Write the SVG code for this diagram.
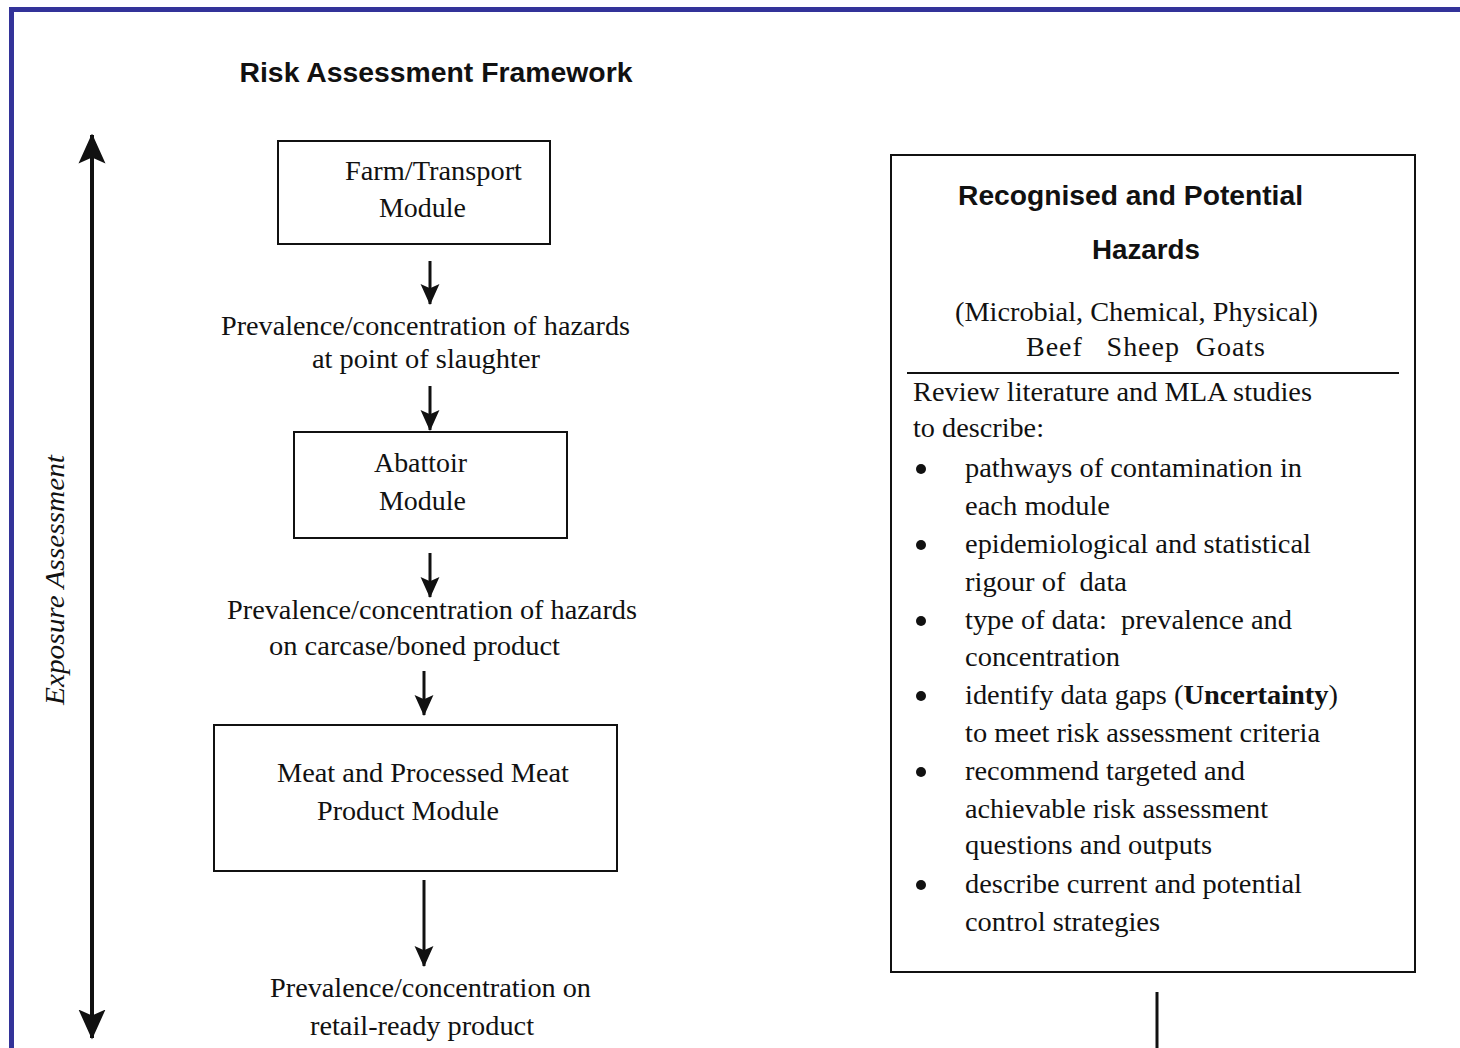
<svg xmlns="http://www.w3.org/2000/svg" width="1460" height="1048" viewBox="0 0 1460 1048">
  <style>
    .frame { fill: none; stroke: #333399; stroke-width: 5; }
    .box { fill: #ffffff; stroke: #111111; stroke-width: 2; }
    .serif { font-family: "Liberation Serif", "Times New Roman", serif; font-size: 28px; fill: #111111; }
    .sans-b { font-family: "Liberation Sans", Arial, sans-serif; font-weight: bold; fill: #111111; }
    .mid { text-anchor: middle; }
    .flow { stroke: #111111; stroke-width: 3; fill: none; }
    .axis { stroke: #111111; stroke-width: 4; fill: none; }
    .rule { stroke: #111111; stroke-width: 2; }
  </style>
  <defs>
    <marker id="head" viewBox="0 0 10 10" refX="9.5" refY="5" markerWidth="7" markerHeight="7" orient="auto" markerUnits="strokeWidth">
      <path d="M0,0.5 L10,5 L0,9.5 L2,5 z" fill="#111111"/>
    </marker>
    <marker id="headS" viewBox="0 0 10 10" refX="9.5" refY="5" markerWidth="7.5" markerHeight="7.5" orient="auto-start-reverse" markerUnits="strokeWidth">
      <path d="M0,0.5 L10,5 L0,9.5 L2,5 z" fill="#111111"/>
    </marker>
  </defs>

  <rect width="1460" height="1048" fill="#ffffff"/>
  <!-- page frame -->
  <path class="frame" d="M11.5,1048 V9.5 H1460"/>

  <text class="sans-b" x="436" y="82" font-size="27" text-anchor="middle" textLength="393" lengthAdjust="spacingAndGlyphs">Risk Assessment Framework</text>

  <!-- exposure axis -->
  <g id="exposure-axis">
    <line class="axis" x1="92" y1="1038" x2="92" y2="135" marker-end="url(#headS)" marker-start="url(#headS)"/>
    <text class="serif mid" font-style="italic" font-size="29" transform="translate(64,580) rotate(-90)" textLength="250" lengthAdjust="spacingAndGlyphs">Exposure Assessment</text>
  </g>

  <g id="farm-module">
    <rect class="box" x="278" y="141" width="272" height="103"/>
    <text class="serif mid" x="433.5" y="180" textLength="177" lengthAdjust="spacingAndGlyphs">Farm/Transport</text>
    <text class="serif mid" x="422.5" y="217" textLength="87" lengthAdjust="spacingAndGlyphs">Module</text>
  </g>

  <g id="slaughter-output">
    <text class="serif mid" x="425.5" y="335" textLength="409" lengthAdjust="spacingAndGlyphs">Prevalence/concentration of hazards</text>
    <text class="serif mid" x="426" y="368" textLength="228" lengthAdjust="spacingAndGlyphs">at point of slaughter</text>
  </g>

  <g id="abattoir-module">
    <rect class="box" x="294" y="432" width="273" height="106"/>
    <text class="serif mid" x="420.5" y="472" textLength="93" lengthAdjust="spacingAndGlyphs">Abattoir</text>
    <text class="serif mid" x="422.5" y="510" textLength="87" lengthAdjust="spacingAndGlyphs">Module</text>
  </g>

  <g id="carcase-output">
    <text class="serif mid" x="432" y="619" textLength="410" lengthAdjust="spacingAndGlyphs">Prevalence/concentration of hazards</text>
    <text class="serif mid" x="414.5" y="655" textLength="291" lengthAdjust="spacingAndGlyphs">on carcase/boned product</text>
  </g>

  <g id="meat-module">
    <rect class="box" x="214" y="725" width="403" height="146"/>
    <text class="serif mid" x="423" y="782" textLength="292" lengthAdjust="spacingAndGlyphs">Meat and Processed Meat</text>
    <text class="serif mid" x="408" y="820" textLength="182" lengthAdjust="spacingAndGlyphs">Product Module</text>
  </g>

  <g id="retail-output">
    <text class="serif mid" x="430.5" y="997" textLength="321" lengthAdjust="spacingAndGlyphs">Prevalence/concentration on</text>
    <text class="serif mid" x="422" y="1035" textLength="224" lengthAdjust="spacingAndGlyphs">retail-ready product</text>
  </g>

  <g id="hazards">
    <rect class="box" x="891" y="155" width="524" height="817"/>
    <text class="sans-b" x="1130.5" y="205" font-size="27" text-anchor="middle" textLength="345" lengthAdjust="spacingAndGlyphs">Recognised and Potential</text>
    <text class="sans-b" x="1146" y="259" font-size="27" text-anchor="middle" textLength="108" lengthAdjust="spacingAndGlyphs">Hazards</text>
    <text class="serif mid" x="1136.5" y="321" textLength="363" lengthAdjust="spacingAndGlyphs">(Microbial, Chemical, Physical)</text>
    <text class="serif" x="1026" y="356" xml:space="preserve" textLength="239">Beef   Sheep  Goats</text>
    <line class="rule" x1="907" y1="373" x2="1399" y2="373"/>
    <text class="serif" x="913" y="401" textLength="399" lengthAdjust="spacingAndGlyphs">Review literature and MLA studies</text>
    <text class="serif" x="913" y="437" textLength="131" lengthAdjust="spacingAndGlyphs">to describe:</text>
    <g fill="#111111">
      <circle cx="921" cy="469" r="5"/>
      <circle cx="921" cy="545" r="5"/>
      <circle cx="921" cy="621" r="5"/>
      <circle cx="921" cy="696" r="5"/>
      <circle cx="921" cy="772" r="5"/>
      <circle cx="921" cy="885" r="5"/>
    </g>
    <text class="serif" x="965" y="477" textLength="337" lengthAdjust="spacingAndGlyphs">pathways of contamination in</text>
    <text class="serif" x="965" y="515" textLength="145" lengthAdjust="spacingAndGlyphs">each module</text>
    <text class="serif" x="965" y="553" textLength="346" lengthAdjust="spacingAndGlyphs">epidemiological and statistical</text>
    <text class="serif" x="965" y="591" xml:space="preserve" textLength="162" lengthAdjust="spacingAndGlyphs">rigour of  data</text>
    <text class="serif" x="965" y="629" xml:space="preserve" textLength="327" lengthAdjust="spacingAndGlyphs">type of data:  prevalence and</text>
    <text class="serif" x="965" y="666" textLength="155" lengthAdjust="spacingAndGlyphs">concentration</text>
    <text class="serif" x="965" y="704" textLength="373" lengthAdjust="spacingAndGlyphs">identify data gaps (<tspan font-weight="bold">Uncertainty</tspan>)</text>
    <text class="serif" x="965" y="742" textLength="355" lengthAdjust="spacingAndGlyphs">to meet risk assessment criteria</text>
    <text class="serif" x="965" y="780" textLength="280" lengthAdjust="spacingAndGlyphs">recommend targeted and</text>
    <text class="serif" x="965" y="818" textLength="303" lengthAdjust="spacingAndGlyphs">achievable risk assessment</text>
    <text class="serif" x="965" y="854" textLength="247" lengthAdjust="spacingAndGlyphs">questions and outputs</text>
    <text class="serif" x="965" y="893" textLength="337" lengthAdjust="spacingAndGlyphs">describe current and potential</text>
    <text class="serif" x="965" y="931" textLength="195" lengthAdjust="spacingAndGlyphs">control strategies</text>
  </g>

  <g id="connectors">
    <line class="flow" x1="430" y1="261" x2="430" y2="304" marker-end="url(#head)"/>
    <line class="flow" x1="430" y1="386" x2="430" y2="430" marker-end="url(#head)"/>
    <line class="flow" x1="430" y1="553" x2="430" y2="597" marker-end="url(#head)"/>
    <line class="flow" x1="424" y1="671" x2="424" y2="715" marker-end="url(#head)"/>
    <line class="flow" x1="424" y1="880" x2="424" y2="966" marker-end="url(#head)"/>
    <line class="flow" x1="1157" y1="992" x2="1157" y2="1048"/>
  </g>
</svg>
